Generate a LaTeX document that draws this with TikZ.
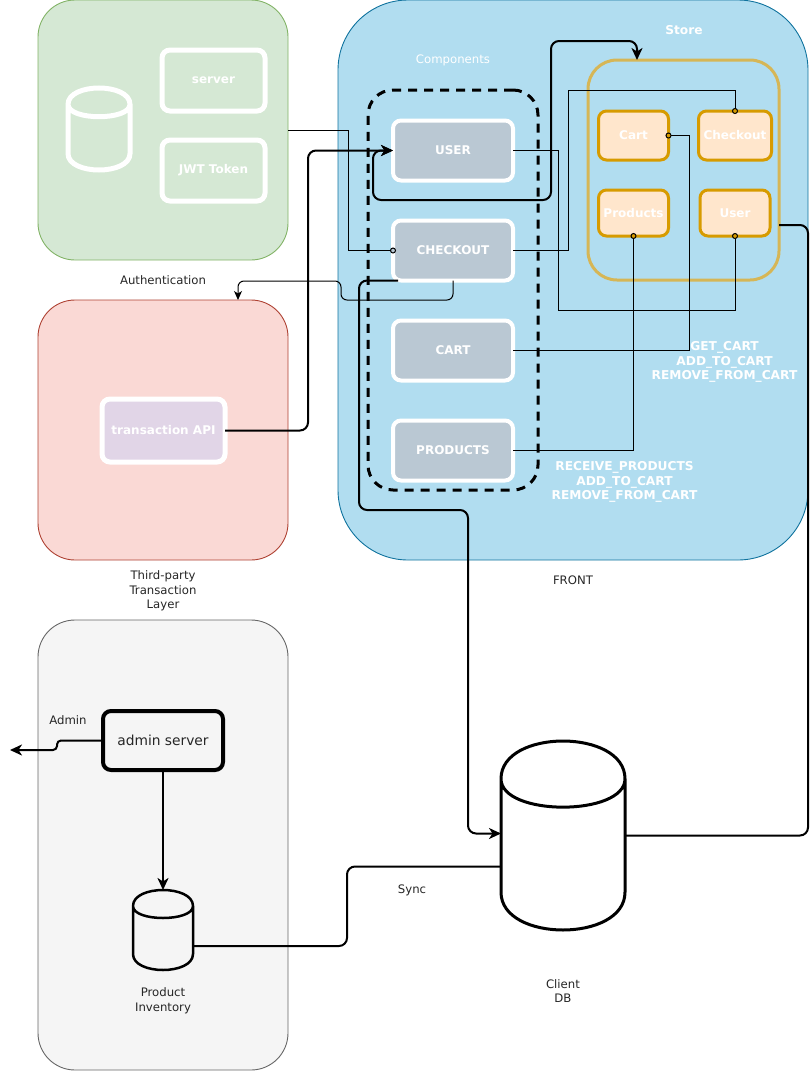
\documentclass[tikz,border=0pt]{standalone}
\usepackage{fontspec}
\setmainfont{DejaVu Sans}
\usetikzlibrary{arrows.meta}
\definecolor{authfill}{HTML}{D5E8D4}
\definecolor{authline}{HTML}{82B366}
\definecolor{payfill}{HTML}{FAD9D5}
\definecolor{payline}{HTML}{AE4132}
\definecolor{apifill}{HTML}{E1D5E7}
\definecolor{adminfill}{HTML}{F5F5F5}
\definecolor{adminline}{HTML}{666666}
\definecolor{frontfill}{HTML}{B1DDF0}
\definecolor{frontline}{HTML}{10739E}
\definecolor{compfill}{HTML}{BAC8D3}
\definecolor{storeline}{HTML}{D6B656}
\definecolor{slicefill}{HTML}{FFE6CC}
\definecolor{sliceline}{HTML}{D79B00}
\tikzset{
  grp/.style    ={draw,rounded corners=#1,line width=0.9pt,outer sep=0pt,inner sep=0pt},
  grp/.default  =37pt,
  box/.style    ={rounded corners=8pt,outer sep=0pt,inner sep=0pt,align=center},
  wbox/.style   ={box,draw=white,line width=4pt,text=white,font=\fontsize{12}{14}\selectfont\bfseries},
  slice/.style  ={box,draw=sliceline,fill=slicefill,line width=3pt,text=white,font=\fontsize{12}{14}\selectfont\bfseries},
  lbl/.style    ={font=\fontsize{11.7}{14.6}\selectfont,align=center,text=black!85},
  wlbl/.style   ={font=\fontsize{12.2}{14.6}\selectfont\bfseries,align=center,text=white},
  thin link/.style ={line width=1pt},
  bold link/.style ={line width=2pt,rounded corners=8pt},
  big tip/.style   ={-{Stealth[length=12pt,width=11pt,inset=3.5pt]}},
  both tip/.style  ={{Stealth[length=12pt,width=11pt,inset=3.5pt]}-{Stealth[length=12pt,width=11pt,inset=3.5pt]}},
  dot/.style       ={-{Circle[open,length=6pt,width=6pt,sep=-3pt,fill=#1]}},
}
% name, left, top, width, height, draw options
\newcommand{\dbcan}[6]{%
  \pgfmathsetmacro{\cantop}{#5/5}
  \node[minimum width=#4pt,minimum height=#5pt,inner sep=0pt,outer sep=0pt] (#1) at (#2+#4/2,#3+#5/2) {};
  \draw[shift={(#2,#3)},#6] (0,\cantop) .. controls (0,-\cantop/3) and (#4,-\cantop/3) .. (#4,\cantop)
    -- (#4,#5-\cantop) .. controls (#4,#5+\cantop/3) and (0,#5+\cantop/3) .. (0,#5-\cantop) -- cycle
    (0,\cantop) .. controls (0,2*\cantop) and (#4,2*\cantop) .. (#4,\cantop);
}
\begin{document}
\begin{tikzpicture}[x=1pt,y=-1pt]
  \useasboundingbox (0,0) rectangle (810,1071);
  % groups
  \node[grp,fill=authfill,draw=authline,minimum width=250pt,minimum height=260pt] (auth) at (163,130) {};
  \node[grp,fill=payfill,draw=payline,minimum width=250pt,minimum height=260pt] (pay) at (163,430) {};
  \node[grp,fill=adminfill,draw=adminline,minimum width=250pt,minimum height=450pt] (admin) at (163,845) {};
  \node[grp=70pt,fill=frontfill,draw=frontline,minimum width=470pt,minimum height=560pt] (front) at (573,280) {};
  \node[grp=25pt,draw=black,line width=3pt,dash pattern=on 9pt off 7pt,minimum width=170pt,minimum height=400pt] (comps) at (453,290) {};
  \node[grp=29pt,draw=storeline,line width=3pt,minimum width=191pt,minimum height=220pt] (store) at (683.5,170) {};

  % authentication
  \dbcan{authdb}{68}{88}{62}{82}{draw=white,line width=5pt}
  \node[wbox,fill=authfill,line width=5pt,minimum width=103pt,minimum height=61pt] (server) at (213.5,80.5) {server};
  \node[wbox,fill=authfill,line width=5pt,minimum width=103pt,minimum height=61pt] (jwt) at (213.5,170.5) {JWT Token};

  % components
  \node[wbox,fill=compfill,minimum width=120pt,minimum height=60pt] (user) at (453,150.5) {USER};
  \node[wbox,fill=compfill,minimum width=120pt,minimum height=60pt] (checkout) at (453,250.5) {CHECKOUT};
  \node[wbox,fill=compfill,minimum width=120pt,minimum height=60pt] (cart) at (453,350.5) {CART};
  \node[wbox,fill=compfill,minimum width=120pt,minimum height=60pt] (products) at (453,450.5) {PRODUCTS};

  % store
  \node[slice,minimum width=70pt,minimum height=49pt] (scart) at (633.5,135.5) {Cart};
  \node[slice,minimum width=73pt,minimum height=49pt] (scheckout) at (735,135.5) {Checkout};
  \node[slice,minimum width=70pt,minimum height=46pt] (sproducts) at (633.5,213) {Products};
  \node[slice,minimum width=70pt,minimum height=46pt] (suser) at (735,213) {User};

  % others
  \node[wbox,fill=apifill,line width=5pt,minimum width=123pt,minimum height=63pt] (api) at (163.5,430.5) {transaction API};
  \node[box,draw=black,line width=4pt,fill=adminfill,minimum width=120pt,minimum height=59pt,font=\fontsize{13.8}{16}\selectfont,text=black!85] (adminsrv) at (163,740.5) {admin server};
  \dbcan{inventory}{133}{890}{60}{80}{draw=black,fill=adminfill,line width=2.5pt}
  \dbcan{clientdb}{501}{741}{124}{189}{draw=black,fill=white,line width=3pt}
  \coordinate (adminout) at (10,750);

  % labels
  \node[lbl] (authlbl) at (163,280.5) {Authentication};
  \node[lbl] (paylbl) at (163,591) {Third-party\\Transaction\\Layer};
  \node[lbl] (frontlbl) at (573,580.5) {FRONT};
  \node[lbl] (adminlbl) at (68,720.5) {Admin};
  \node[lbl] (synclbl) at (412,890.5) {Sync};
  \node[lbl] (invlbl) at (163,1001) {Product\\Inventory};
  \node[lbl] (dblbl) at (563,991) {Client\\DB};
  \node[lbl,text=white] (compslbl) at (453,60.5) {Components};
  \node[wlbl] (storelbl) at (684,30.5) {Store};
  \node[wlbl] (cartlbl) at (724.5,362) {GET\_CART\\ADD\_TO\_CART\\REMOVE\_FROM\_CART};
  \node[wlbl] (prodlbl) at (624.5,482) {RECEIVE\_PRODUCTS\\ADD\_TO\_CART\\REMOVE\_FROM\_CART};

  % thin links
  \draw[thin link,dot=compfill] (auth.east) -- (348,130) -- (348,250.5) -- (checkout.west);
  \draw[thin link,dot=sliceline] (user.east) -- (558,150.5) -- (558,310) -- (735,310) -- (suser.south);
  \draw[thin link,dot=sliceline] (checkout.east) -- (568,250.5) -- (568,90) -- (735,90) -- (scheckout.north);
  \draw[thin link,dot=sliceline] (cart.east) -- (689,350.5) -- (689,135.5) -- (scart.east);
  \draw[thin link,dot=sliceline] (products.east) -- (633.5,450.5) -- (sproducts.south);
  \draw[thin link,rounded corners=6pt,-{Stealth[length=9pt,width=8pt,inset=2.5pt]}] (checkout.south) -- (453,300) -- (341,300) -- (341,281) -- (238,281) -- (pay.north -| 238,0);

  % bold links
  \draw[bold link,both tip] (user.west) -- (373,150.5) -- (373,200) -- (551,200) -- (551,41) -- (637,41) -- (store.north -| 637,0);
  \draw[bold link,big tip] (api.east) -- (308,430.5) -- (308,150.5) -- (user.west);
  \draw[bold link,big tip] ([xshift=5pt]checkout.south west) -- (359,280.5) -- (359,510) -- (468,510) -- (468,833.5) -- ([yshift=2pt]clientdb.west);
  \draw[bold link] (store.east |- 0,225) -- (808,225) -- (808,835.5) -- (clientdb.east);
  \draw[bold link] ([yshift=-16pt]inventory.east) -- (347,946) -- (347,866.5) -- ([yshift=-31pt]clientdb.west);
  \draw[bold link,rounded corners=4pt,big tip] (adminsrv.west) -- (57,740.5) -- (57,750) -- (adminout);
  \draw[bold link,big tip] (adminsrv.south) -- (inventory.north);
\end{tikzpicture}
\end{document}
